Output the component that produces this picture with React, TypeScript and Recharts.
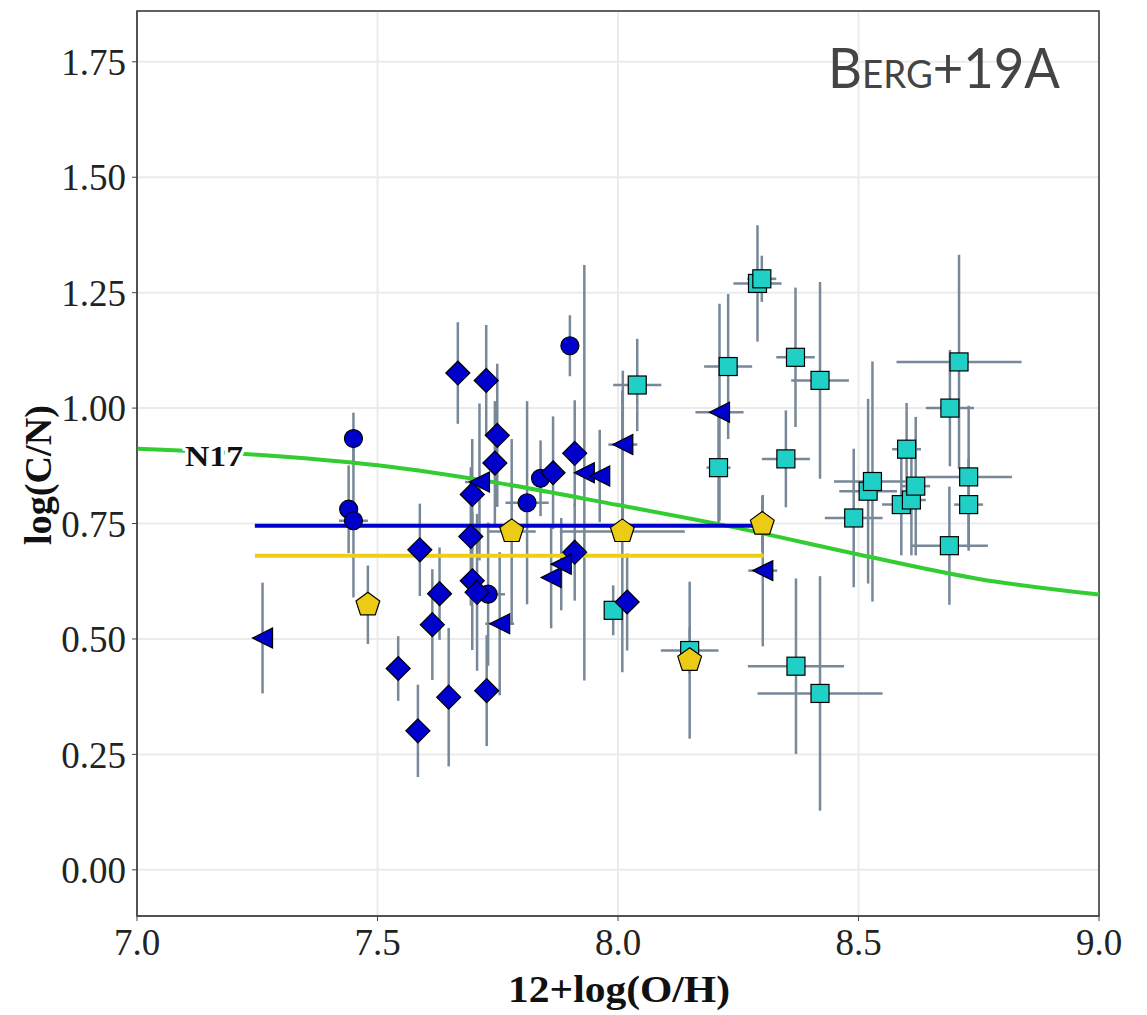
import React from 'react';
import {
  ComposedChart, Scatter, Line, XAxis, YAxis, CartesianGrid, ErrorBar, ReferenceArea,
} from 'recharts';

// [x, y, yErr, xErr]
const circlePts = [
  [7.45, 0.934, 0.056, 0], [7.44, 0.781, 0.095, 0], [7.45, 0.756, 0.166, 0.03],
  [7.73, 0.597, 0.155, 0.035], [7.811, 0.795, 0.22, 0.045], [7.839, 0.848, 0.082, 0],
  [7.9, 1.135, 0.066, 0],
];
const squarePts = [
  [7.99, 0.562, 0.054, 0], [8.04, 1.05, 0.1, 0.05], [8.149, 0.475, 0.05, 0.06],
  [8.209, 0.871, 0.12, 0.025], [8.229, 1.09, 0.157, 0.05], [8.29, 1.27, 0.126, 0.05],
  [8.299, 1.28, 0.05, 0.03], [8.349, 0.89, 0.105, 0.05], [8.369, 1.11, 0.151, 0.04],
  [8.42, 1.06, 0.213, 0.06], [8.37, 0.441, 0.19, 0.1], [8.42, 0.382, 0.254, 0.13],
  [8.49, 0.762, 0.15, 0.06], [8.52, 0.82, 0.2, 0.06], [8.529, 0.841, 0.26, 0.08],
  [8.589, 0.791, 0.11, 0.04], [8.6, 0.911, 0.1, 0.03], [8.61, 0.801, 0.12, 0.03],
  [8.619, 0.831, 0.15, 0.03], [8.69, 1.0, 0.126, 0.05], [8.709, 1.1, 0.232, 0.13],
  [8.729, 0.851, 0.154, 0.09], [8.729, 0.791, 0.1, 0.03], [8.689, 0.702, 0.128, 0.08],
];
const diamondPts = [
  [7.588, 0.693, 0.1, 0], [7.629, 0.598, 0.1, 0], [7.614, 0.531, 0.12, 0],
  [7.543, 0.436, 0.07, 0], [7.584, 0.301, 0.1, 0], [7.648, 0.374, 0.15, 0],
  [7.727, 0.388, 0.12, 0], [7.667, 1.076, 0.11, 0], [7.726, 1.06, 0.12, 0],
  [7.749, 0.941, 0.155, 0], [7.744, 0.881, 0.134, 0], [7.697, 0.813, 0.12, 0],
  [7.694, 0.722, 0.15, 0], [7.697, 0.626, 0.15, 0], [7.707, 0.601, 0.17, 0],
  [7.865, 0.86, 0.122, 0], [7.91, 0.902, 0.115, 0], [7.91, 0.688, 0.105, 0],
  [8.019, 0.58, 0.105, 0],
];
const trianglePts = [
  [7.261, 0.502, 0.12, 0], [7.712, 0.84, 0.17, 0.03], [7.754, 0.533, 0.155, 0.03],
  [7.861, 0.633, 0.11, 0], [7.882, 0.662, 0.1, 0], [7.93, 0.86, 0.45, 0],
  [7.962, 0.853, 0.1, 0], [8.01, 0.921, 0.16, 0.03], [8.211, 0.991, 0.235, 0.05],
  [8.301, 0.648, 0.164, 0.03],
];
const pentagonPts = [
  [7.48, 0.574, 0.085, 0], [7.779, 0.733, 0.2, 0.05], [8.009, 0.733, 0.305, 0.13],
  [8.149, 0.454, 0.17, 0], [8.3, 0.749, 0.06, 0],
];

const n17X = [7.0, 7.25, 7.5, 7.75, 8.0, 8.25, 8.5, 8.75, 9.0];
const n17Y = [0.912, 0.899, 0.876, 0.838, 0.79, 0.74, 0.683, 0.63, 0.596];

const blueMeanX = [7.245, 8.28];
const blueMean = 0.745;
const yellowMeanX = [7.245, 8.303];
const yellowMean = 0.68;

const xTicks = [7.0, 7.5, 8.0, 8.5, 9.0];
const yTicks = [0, 0.25, 0.5, 0.75, 1.0, 1.25, 1.5, 1.75];

const BLUE = '#0000cd';
const CYAN = '#20cfc6';
const GOLD = '#eccb17';
const ERR = '#778899';
const SERIF = '"Liberation Serif", "DejaVu Serif", serif';

const toRows = (pts: number[][]) => pts.map(([x, y, ey, ex]) => ({ x, y, ey, ex }));

const Circle = ({ cx, cy }: any) => (
  <circle cx={cx} cy={cy} r={9} fill={BLUE} stroke="#000" strokeWidth={1.2} />
);
const Square = ({ cx, cy }: any) => (
  <rect x={cx - 9} y={cy - 9} width={18} height={18} fill={CYAN} stroke="#000" strokeWidth={1.2} />
);
const Diamond = ({ cx, cy }: any) => {
  const r = 12;
  return (
    <polygon
      points={`${cx},${cy - r} ${cx + r},${cy} ${cx},${cy + r} ${cx - r},${cy}`}
      fill={BLUE} stroke="#000" strokeWidth={1.2}
    />
  );
};
const LeftTriangle = ({ cx, cy }: any) => {
  const r = 10;
  return (
    <polygon
      points={`${cx - r},${cy} ${cx + r},${cy - r} ${cx + r},${cy + r}`}
      fill={BLUE} stroke="#000" strokeWidth={1.2}
    />
  );
};
const Pentagon = ({ cx, cy }: any) => {
  const r = 12.5;
  const pts = [0, 1, 2, 3, 4].map((i) => {
    const a = -Math.PI / 2 + (i * 2 * Math.PI) / 5;
    return `${cx + r * Math.cos(a)},${cy + r * Math.sin(a)}`;
  });
  return <polygon points={pts.join(' ')} fill={GOLD} stroke="#000" strokeWidth={1.2} />;
};
const Nothing = () => <g />;

const series = [
  { name: 'circles', rows: toRows(circlePts), shape: Circle },
  { name: 'squares', rows: toRows(squarePts), shape: Square },
  { name: 'diamonds', rows: toRows(diamondPts), shape: Diamond },
  { name: 'triangles', rows: toRows(trianglePts), shape: LeftTriangle },
  { name: 'pentagons', rows: toRows(pentagonPts), shape: Pentagon },
];

const n17Data = n17X.map((x, i) => ({ x, y: n17Y[i] }));
const blueData = blueMeanX.map((x) => ({ x, y: blueMean }));
const yellowData = yellowMeanX.map((x) => ({ x, y: yellowMean }));

const tickStyle = { fontSize: 37, fill: '#222', fontFamily: SERIF };

export default function App() {
  return (
    <div style={{ position: 'absolute', left: 0, top: 0, width: 1147, height: 1015, background: '#fff' }}>
      <ComposedChart width={1147} height={1015} margin={{ top: 11, right: 48, bottom: 39, left: 0 }}>
        <CartesianGrid stroke="#ebebeb" strokeWidth={2} />
        <XAxis
          type="number" dataKey="x" domain={[7, 9]} ticks={xTicks} allowDataOverflow
          tickFormatter={(v: number) => v.toFixed(1)} tick={tickStyle}
          tickSize={5} tickMargin={8} height={60} stroke="#444"
        />
        <YAxis
          type="number" dataKey="y" domain={[-0.1, 1.86]} ticks={yTicks} allowDataOverflow
          tickFormatter={(v: number) => v.toFixed(2)} tick={tickStyle}
          tickSize={5} tickMargin={6} width={137} stroke="#444"
        />
        {series.map((s) => (
          <Scatter key={s.name + '-err'} data={s.rows} shape={Nothing} isAnimationActive={false}>
            <ErrorBar dataKey="ey" direction="y" width={0} stroke={ERR} strokeWidth={2.5} />
            <ErrorBar dataKey="ex" direction="x" width={0} stroke={ERR} strokeWidth={2.5} />
          </Scatter>
        ))}
        <Line data={n17Data} dataKey="y" type="monotone" stroke="#33cc33" strokeWidth={4} dot={false} isAnimationActive={false} />
        <Line data={blueData} dataKey="y" type="linear" stroke={BLUE} strokeWidth={4} dot={false} isAnimationActive={false} />
        <Line data={yellowData} dataKey="y" type="linear" stroke="#eecf16" strokeWidth={4} dot={false} isAnimationActive={false} />
        {series.map((s) => (
          <Scatter key={s.name} data={s.rows} shape={s.shape} isAnimationActive={false} />
        ))}
        <ReferenceArea x1={7} x2={9} y1={-0.1} y2={1.86} fill="none" stroke="#333" strokeWidth={1.5} />
      </ComposedChart>
      <svg width={1147} height={1015} style={{ position: 'absolute', left: 0, top: 0, pointerEvents: 'none' }}>
        <text
          x={185} y={466} fontFamily={SERIF} fontWeight="bold" fontSize={30} fill="#111"
          stroke="#fff" strokeWidth={6} paintOrder="stroke" textLength={58} lengthAdjust="spacingAndGlyphs"
        >
          N17
        </text>
        <text
          x={828} y={88} fontFamily="Lato, 'Open Sans', sans-serif" fontSize={56} fill="#444"
          style={{ fontVariant: 'small-caps' }} textLength={232} lengthAdjust="spacingAndGlyphs"
        >
          Berg+19A
        </text>
        <text
          x={619} y={1002} textAnchor="middle" fontFamily={SERIF} fontWeight="bold" fontSize={38}
          fill="#111" textLength={222} lengthAdjust="spacingAndGlyphs"
        >
          12+log(O/H)
        </text>
        <text
          transform="translate(51, 475) rotate(-90)" textAnchor="middle" fontFamily={SERIF}
          fontWeight="bold" fontSize={38} fill="#111" textLength={140} lengthAdjust="spacingAndGlyphs"
        >
          log(C/N)
        </text>
      </svg>
    </div>
  );
}
